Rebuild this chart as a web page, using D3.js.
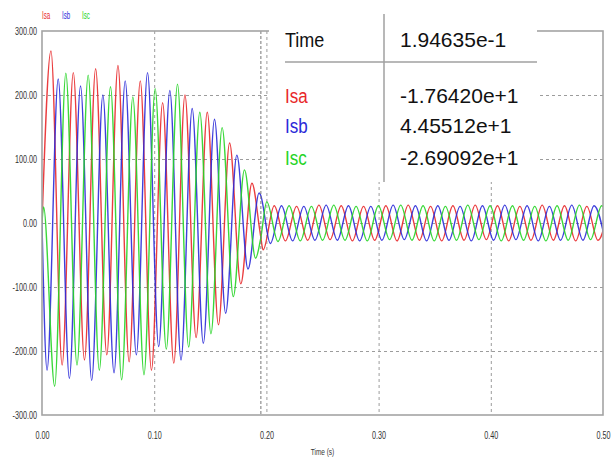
<!DOCTYPE html>
<html>
<head>
<meta charset="utf-8">
<script src="https://cdn.jsdelivr.net/npm/d3@7"></script>
<style>
  body { margin: 0; background: #fff; }
  svg { display: block; }
</style>
</head>
<body>
<svg id="chart" width="615" height="459"></svg>
<script>
// Phase currents of the stator (A) against time (s)
const seriesNames = ["Isa", "Isb", "Isc"];
const seriesColors = ["#e8282a", "#2a2ad8", "#25d425"];
const yTicks = [-300, -200, -100, 0, 100, 200, 300];
const xTicks = [0, 0.1, 0.2, 0.3, 0.4, 0.5];
const gridY = [-200, -100, 0, 100, 200];
const gridX = [0.1, 0.2, 0.3, 0.4];

// supply period and the time of each phase's first half-cycle extremum
const cycle = 0.0199;
const firstExtremum = [0.0080, 0.0045, 0.0113];

// start-up samples before the first extremum
const leadIn = [
  [[0, 0]],
  [[0, 0]],
  [[0, 0], [0.0014, 25]]
];

// successive half-cycle extrema (peak, trough, peak, ...) of each phase
const isaExtrema = [269, -222, 235, -214, 241, -206, 246, -217, 222, -230,
  188, -219, 200, -179, 173, -159, 125, -95, 62, -42,
  27, -28, 26, -27, 28, -26, 27, -28, 26, -27, 27, -28, 28, -27, 26, -28,
  27, -27, 28, -26, 27, -28, 26, -27, 28, -27, 27, -28, 26, -27, 28];
const isbExtrema = [-230, 225, -243, 214, -246, 200, -234, 222, -206, 235,
  -193, 207, -214, 179, -188, 162, -141, 106, -72, 47,
  -32, 27, -28, 26, -27, 28, -27, 27, -28, 26, -27, 28, -26, 27, -28, 27,
  -27, 26, -28, 27, -27, 28, -26, 27, -28, 26, -27, 28, -27, 27, -28];
const iscExtrema = [-255, 234, -222, 231, -230, 213, -245, 197, -237, 210,
  -197, 217, -194, 173, -173, 149, -115, 83, -55, 33,
  -29, 27, -28, 26, -27, 28, -27, 26, -28, 27, -26, 28, -27, 27, -28, 26,
  -27, 28, -26, 27, -28, 27, -27, 26, -28, 27, -27, 28, -26, 27, -28];

// cursor readout
const cursorTime = 0.194635;
const cursorValues = [-17.6420, 44.5512, -26.9092];

const svg = d3.select("#chart");
const W = 615, H = 459;
const plot = { left: 42, right: 603, top: 31, bottom: 415 };

const x = d3.scaleLinear().domain([0, 0.5]).range([plot.left, plot.right]);
const y = d3.scaleLinear().domain([-300, 300]).range([plot.bottom, plot.top]);

const sans = "'Liberation Sans', Arial, sans-serif";
// plain hyphen as the minus sign
const locale = d3.formatLocale({ decimal: ".", thousands: ",", grouping: [3], currency: ["", ""], minus: "-" });

// squeeze a text horizontally, keeping its anchor
function condense(sel, factor) {
  sel.each(function () {
    const w = this.getComputedTextLength();
    d3.select(this).attr("textLength", w * factor).attr("lengthAdjust", "spacingAndGlyphs");
  });
}

svg.append("rect").attr("width", W).attr("height", H).attr("fill", "#fff");

// grid
const grid = svg.append("g").attr("stroke", "#9c9c9c").attr("stroke-width", 1)
  .attr("stroke-dasharray", "3,3");
grid.selectAll("line.gy").data(gridY).join("line").attr("class", "gy")
  .attr("x1", plot.left).attr("x2", plot.right)
  .attr("y1", d => y(d) + 0.5).attr("y2", d => y(d) + 0.5);
grid.selectAll("line.gx").data(gridX).join("line").attr("class", "gx")
  .attr("y1", plot.top).attr("y2", plot.bottom)
  .attr("x1", d => x(d) + 0.5).attr("x2", d => x(d) + 0.5);

// waveforms
svg.append("clipPath").attr("id", "plotClip").append("rect")
  .attr("x", plot.left).attr("y", plot.top)
  .attr("width", plot.right - plot.left).attr("height", plot.bottom - plot.top);

function buildSeries(i, extrema) {
  const pts = leadIn[i].map(([t, v]) => ({ t, v }));
  extrema.forEach((v, k) => pts.push({ t: firstExtremum[i] + k * cycle / 2, v }));
  pts.push({ t: cursorTime, v: cursorValues[i] });
  pts.sort((a, b) => a.t - b.t);
  return pts;
}
const series = [isaExtrema, isbExtrema, iscExtrema].map((e, i) => buildSeries(i, e));

const line = d3.line().x(d => x(d.t)).y(d => y(d.v)).curve(d3.curveMonotoneX);
svg.append("g").attr("clip-path", "url(#plotClip)")
  .selectAll("path").data(series).join("path")
  .attr("d", line).attr("fill", "none")
  .attr("stroke", (d, i) => seriesColors[i])
  .attr("stroke-width", 1.4).attr("stroke-opacity", 0.9);

// cursor
svg.append("line")
  .attr("x1", x(cursorTime) + 0.5).attr("x2", x(cursorTime) + 0.5)
  .attr("y1", plot.top).attr("y2", plot.bottom)
  .attr("stroke", "#777").attr("stroke-width", 1).attr("stroke-dasharray", "3,2");

// frame
svg.append("rect")
  .attr("x", plot.left).attr("y", plot.top)
  .attr("width", plot.right - plot.left).attr("height", plot.bottom - plot.top)
  .attr("fill", "none").attr("stroke", "#a4a4a4").attr("stroke-width", 1.6);

// axes
const fmt = locale.format(".2f");
const yAxis = svg.append("g").attr("transform", `translate(${plot.left - 4},0)`)
  .call(d3.axisLeft(y).tickValues(yTicks).tickFormat(fmt).tickSize(0).tickPadding(1));
const xAxis = svg.append("g").attr("transform", `translate(0,${plot.bottom})`)
  .call(d3.axisBottom(x).tickValues(xTicks).tickFormat(fmt).tickSize(0).tickPadding(17));
[yAxis, xAxis].forEach(a => {
  a.select(".domain").remove();
  a.selectAll("text").attr("font-family", sans).attr("font-size", 10).attr("fill", "#333")
    .call(condense, 0.72);
});

svg.append("text").attr("x", x(0.25)).attr("y", 455).attr("text-anchor", "middle")
  .attr("font-family", sans).attr("font-size", 9).attr("fill", "#333").text("Time (s)")
  .call(condense, 0.72);

// series legend
svg.append("g").selectAll("text").data(seriesNames).join("text")
  .attr("x", (d, i) => plot.left + i * 20).attr("y", 19)
  .attr("font-family", sans).attr("font-size", 10)
  .attr("fill", (d, i) => seriesColors[i]).text(d => d)
  .call(condense, 0.62);

// readout panel
const panel = svg.append("g");
panel.append("rect").attr("x", 269).attr("y", 0).attr("width", 268).attr("height", 182)
  .attr("fill", "#fff");
panel.append("line").attr("x1", 384).attr("x2", 384).attr("y1", 14).attr("y2", 182)
  .attr("stroke", "#a0a0a0").attr("stroke-width", 1.5);
panel.append("line").attr("x1", 285).attr("x2", 537).attr("y1", 62).attr("y2", 62)
  .attr("stroke", "#a0a0a0").attr("stroke-width", 1.5);

const expFmt = locale.format(".5e");
panel.append("text").attr("x", 285).attr("y", 47)
  .attr("font-family", sans).attr("font-size", 20).attr("fill", "#111").text("Time")
  .call(condense, 0.9);
panel.append("text").attr("x", 400).attr("y", 47)
  .attr("font-family", sans).attr("font-size", 21).attr("fill", "#111").text(expFmt(cursorTime));

const rowY = [103, 133, 165];
panel.selectAll("text.name").data(seriesNames).join("text").attr("class", "name")
  .attr("x", 285).attr("y", (d, i) => rowY[i])
  .attr("font-family", sans).attr("font-size", 20)
  .attr("fill", (d, i) => seriesColors[i]).text(d => d)
  .call(condense, 0.85);
panel.selectAll("text.val").data(cursorValues).join("text").attr("class", "val")
  .attr("x", 400).attr("y", (d, i) => rowY[i])
  .attr("font-family", sans).attr("font-size", 21).attr("fill", "#111")
  .text(d => expFmt(d));
</script>
</body>
</html>
